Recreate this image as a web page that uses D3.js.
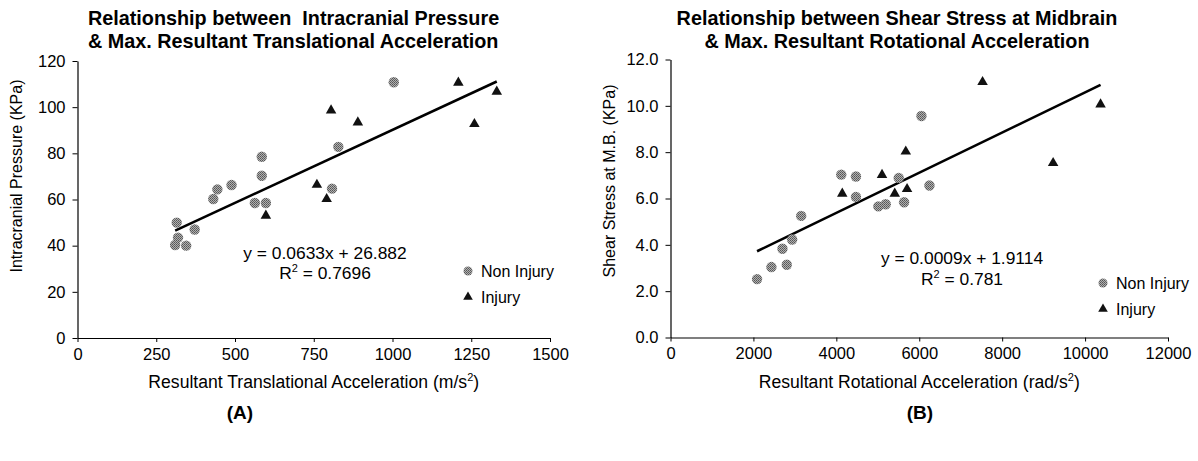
<!DOCTYPE html>
<head>
<style>
body { margin: 0; background: #fff; }
* { font-family: "Liberation Sans", Arial, sans-serif; }
</style>
</head>
<body>
<svg width="1198" height="461"></svg>
<script src="https://d3js.org/d3.v7.min.js"></script>
<script>

// panel A: intracranial pressure vs translational acceleration  [x, y]
var panelA_nonInjury = [[315,50],[319,43.5],[310,40.3],[345,40],[372,47],[431,60.2],[444,64.4],[489,66.3],
  [585,78.5],[585,70.3],[563,58.5],[598,58.5],[808,64.7],[828,82.8],[1004,110.8]];
var panelA_injury = [[598,53],[760,66.4],[791,60.2],[805,98.6],[890,93.4],[1209,110.6],[1331,106.7],[1260,92.7]];
var panelA_xTicks = [0,250,500,750,1000,1250,1500];
var panelA_yTicks = [0,20,40,60,80,100,120];
var panelA_fit = {slope: 0.0633, intercept: 26.882, eq: "y = 0.0633x + 26.882", r2: "0.7696"};

// panel B: shear stress at midbrain vs rotational acceleration
var panelB_nonInjury = [[2088,2.52],[2434,3.04],[2805,3.14],[2700,3.83],[2934,4.23],[3152,5.25],[4119,7.03],
  [4473,6.95],[4473,6.07],[5013,5.66],[5191,5.75],[5505,6.89],[5634,5.84],[6053,9.56],[6246,6.56]];
var panelB_injury = [[4143,6.21],[5102,7.02],[5409,6.21],[5675,8.03],[5706,6.41],[7527,11.03],[9229,7.53],[10373,10.06]];
var panelB_xTicks = [0,2000,4000,6000,8000,10000,12000];
var panelB_yTicks = [0,2,4,6,8,10,12];
// drawn line slope (label shows the rounded 0.0009)
var panelB_fit = {slope: 0.000867, intercept: 1.9114, eq: "y = 0.0009x + 1.9114", r2: "0.781"};

var svg = d3.select("svg");

// halftone grey for the non injury dots
var pat = svg.append("defs").append("pattern")
    .attr("id", "dots").attr("width", 2).attr("height", 2)
    .attr("patternUnits", "userSpaceOnUse");
pat.append("rect").attr("width", 2).attr("height", 2).attr("fill", "#b0b0b0");
pat.append("rect").attr("width", 1).attr("height", 1).attr("fill", "#555");
pat.append("rect").attr("x", 1).attr("y", 1).attr("width", 1).attr("height", 1).attr("fill", "#666");

function panel(o) {
  var x = d3.scaleLinear().domain(o.xDomain).range(o.xRange);
  var y = d3.scaleLinear().domain(o.yDomain).range(o.yRange);
  var g = svg.append("g");

  g.append("g")
      .attr("transform", "translate(0," + o.yRange[0] + ")")
      .call(d3.axisBottom(x).tickValues(o.xTicks).tickFormat(d3.format("d")).tickSize(4).tickSizeOuter(0).tickPadding(6))
      .call(function(a) {
        a.select(".domain").attr("stroke-width", 1.2);
        a.selectAll("text").attr("font-size", 16.5).attr("fill", "#000").attr("font-family", null);
      });

  g.append("g")
      .attr("transform", "translate(" + o.xRange[0] + ",0)")
      .call(d3.axisLeft(y).tickValues(o.yTicks).tickFormat(o.yFormat).tickSize(5).tickSizeOuter(0).tickPadding(7))
      .call(function(a) {
        a.select(".domain").attr("stroke-width", 1.2);
        a.selectAll("text").attr("font-size", 16.5).attr("fill", "#000").attr("font-family", null);
      });

  // trend line over the data range
  var all = o.nonInjury.concat(o.injury);
  var ext = d3.extent(all, function(d) { return d[0]; });
  g.append("line")
      .attr("x1", x(ext[0])).attr("y1", y(o.fit.slope * ext[0] + o.fit.intercept))
      .attr("x2", x(ext[1])).attr("y2", y(o.fit.slope * ext[1] + o.fit.intercept))
      .attr("stroke", "#000").attr("stroke-width", 2.6);

  g.selectAll(".ni").data(o.nonInjury).enter().append("circle")
      .attr("cx", function(d) { return x(d[0]); })
      .attr("cy", function(d) { return y(d[1]); })
      .attr("r", 5.2)
      .attr("fill", "url(#dots)");

  var tri = d3.symbol().type(d3.symbolTriangle).size(48);
  g.selectAll(".inj").data(o.injury).enter().append("path")
      .attr("d", tri)
      .attr("transform", function(d) { return "translate(" + x(d[0]) + "," + y(d[1]) + ")"; })
      .attr("fill", "#111");

  // title
  var t = g.append("text").attr("font-weight", "bold").attr("font-size", 19.8)
      .style("white-space", "pre")
      .attr("text-anchor", o.titleAnchor).attr("x", o.titleX);
  o.title.forEach(function(s, i) {
    t.append("tspan").attr("x", o.titleX).attr("y", 25 + i * 23).text(s);
  });

  // axis titles
  var xt = g.append("text").attr("font-size", 17.6).attr("text-anchor", "middle")
      .attr("x", (o.xRange[0] + o.xRange[1]) / 2).attr("y", 388);
  xt.append("tspan").text(o.xLabel);
  xt.append("tspan").attr("font-size", 11).attr("dy", -7).text("2");
  xt.append("tspan").attr("dy", 7).text(")");

  g.append("text").attr("font-size", 16).attr("text-anchor", "middle")
      .attr("transform", "translate(" + o.yLabelX + "," + o.yLabelY + ") rotate(-90)")
      .text(o.yLabel);

  // equation
  g.append("text").attr("font-size", 17.4).attr("text-anchor", "middle")
      .attr("x", o.eqX).attr("y", o.eqY).text(o.fit.eq);
  var r = g.append("text").attr("font-size", 17.4).attr("text-anchor", "middle")
      .attr("x", o.eqX).attr("y", o.eqY + o.eqGap);
  r.append("tspan").text("R");
  r.append("tspan").attr("font-size", 11).attr("dy", -7).text("2");
  r.append("tspan").attr("dy", 7).text(" = " + o.fit.r2);

  // legend
  g.append("circle").attr("cx", o.legX).attr("cy", o.legY).attr("r", 4.5).attr("fill", "url(#dots)");
  g.append("text").attr("font-size", 16).attr("x", o.legX + 13).attr("y", o.legY + 5.5).text("Non Injury");
  g.append("path").attr("d", d3.symbol().type(d3.symbolTriangle).size(40))
      .attr("transform", "translate(" + o.legX + "," + (o.legY + 26) + ")").attr("fill", "#111");
  g.append("text").attr("font-size", 16).attr("x", o.legX + 13).attr("y", o.legY + 31.5).text("Injury");

  g.append("text").attr("font-size", 19).attr("font-weight", "bold").attr("text-anchor", "middle")
      .attr("x", o.tagX).attr("y", 419).text(o.tag);
}

panel({
  xDomain: [0, 1500], xRange: [77.5, 550],
  yDomain: [0, 120], yRange: [338, 61],
  xTicks: panelA_xTicks, yTicks: panelA_yTicks, yFormat: d3.format("d"),
  nonInjury: panelA_nonInjury, injury: panelA_injury, fit: panelA_fit,
  title: ["Relationship between  Intracranial Pressure", "& Max. Resultant Translational Acceleration"],
  titleAnchor: "start", titleX: 88,
  xLabel: "Resultant Translational Acceleration (m/s",
  yLabel: "Intracranial Pressure (KPa)", yLabelX: 22, yLabelY: 176,
  eqX: 325, eqY: 259, eqGap: 20,
  legX: 468, legY: 271,
  tag: "(A)", tagX: 240
});

panel({
  xDomain: [0, 12000], xRange: [670.5, 1168],
  yDomain: [0, 12], yRange: [337.5, 59.5],
  xTicks: panelB_xTicks, yTicks: panelB_yTicks, yFormat: d3.format(".1f"),
  nonInjury: panelB_nonInjury, injury: panelB_injury, fit: panelB_fit,
  title: ["Relationship between Shear Stress at Midbrain", "& Max. Resultant Rotational Acceleration"],
  titleAnchor: "middle", titleX: 897,
  xLabel: "Resultant Rotational Acceleration (rad/s",
  yLabel: "Shear Stress at M.B. (KPa)", yLabelX: 615, yLabelY: 181,
  eqX: 962, eqY: 264, eqGap: 21,
  legX: 1103, legY: 283,
  tag: "(B)", tagX: 920
});

</script>
</body>
